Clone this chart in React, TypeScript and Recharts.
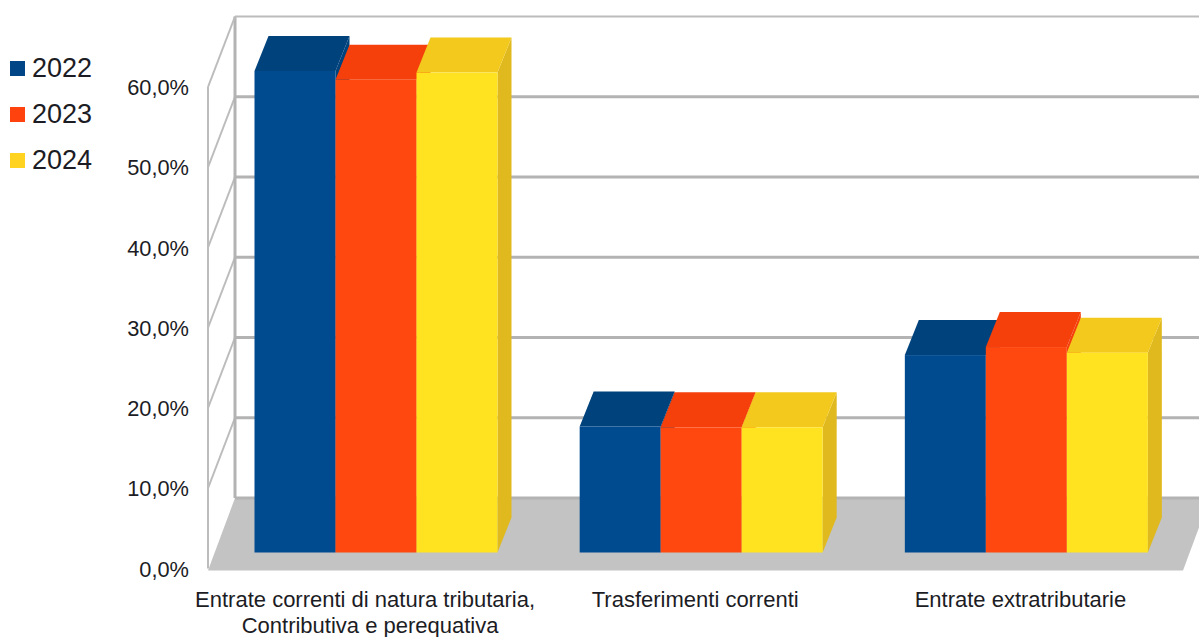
import { BarChart, Bar, XAxis, YAxis, Legend, ReferenceLine } from "recharts"

const categories = [
  ["Entrate correnti di natura tributaria,", "Contributiva e perequativa"],
  ["Trasferimenti correnti"],
  ["Entrate extratributarie"],
]
const values2022 = [60.0, 15.7, 24.6]
const values2023 = [58.9, 15.6, 25.6]
const values2024 = [59.8, 15.6, 24.9]
const yTicks = [0, 10, 20, 30, 40, 50, 60]

const data = categories.map((c, i) => ({
  name: c.join(" "),
  lines: c,
  y2022: values2022[i],
  y2023: values2023[i],
  y2024: values2024[i],
}))

const FONT = "'Liberation Sans', Arial, sans-serif"
const TEXT = "#1c1c24"
const DEPTH_X = 14
const DEPTH_Y = 35
const PLOT_H = 481.5

// back wall and floor, hung off the reference lines so y comes from the axis scale
const WallLine = (props: any) => {
  const { y1, value } = props
  const by = y1 - 54.5
  const fy = y1 + 16
  return (
    <g>
      {value === 0 && <polygon points={`208,${fy + 2} 1183,${fy + 2} 1210,${by} 235,${by}`} fill="#c3c3c3" />}
      {value === 60 && (
        <g>
          <line x1={235} x2={235} y1={by} y2={by + PLOT_H} stroke="#b3b3b3" strokeWidth={3} />
          <line x1={208} x2={208} y1={fy} y2={fy + PLOT_H} stroke="#bcbcbc" strokeWidth={2} />
        </g>
      )}
      <line x1={235} x2={1199} y1={by} y2={by} stroke={value === 60 ? "#bcbcbc" : "#b3b3b3"} strokeWidth={value === 60 ? 2 : 3} />
      {value !== 0 && <line x1={208} x2={235} y1={fy} y2={by} stroke="#bcbcbc" strokeWidth={2} />}
    </g>
  )
}

const Bar3D = ({ x, y, width, height, front, top, side }: any) => (
  <g>
    <polygon points={`${x + width},${y} ${x + width + DEPTH_X},${y - DEPTH_Y} ${x + width + DEPTH_X},${y + height - DEPTH_Y} ${x + width},${y + height}`} fill={side} />
    <polygon points={`${x},${y} ${x + DEPTH_X},${y - DEPTH_Y} ${x + width + DEPTH_X},${y - DEPTH_Y} ${x + width},${y}`} fill={top} />
    <rect x={x} y={y} width={width} height={height} fill={front} />
  </g>
)

const YTick = ({ y, payload }: any) => (
  <text x={189} y={y + 17} dy={7} textAnchor="end" fontSize={21.8} fontFamily={FONT} fill={TEXT}>
    {payload.value.toFixed(1).replace(".", ",")}%
  </text>
)

const XTick = ({ x, index }: any) => (
  <text textAnchor="middle" fontSize={22} fontFamily={FONT} fill={TEXT}>
    {categories[index].map((l, i) => (
      <tspan key={i} x={x - 6 - (index === 0 && i === 0 ? 5 : 0)} y={607 + i * 26}>{l}</tspan>
    ))}
  </text>
)

const LegendBox = ({ payload }: any) => (
  <div style={{ fontFamily: FONT, fontSize: 27, color: TEXT }}>
    {payload.map((p: any) => (
      <div key={p.value} style={{ height: 46, display: "flex", alignItems: "center" }}>
        <span style={{ width: 15, height: 15, background: p.color, marginRight: 7, display: "inline-block" }} />
        {p.value}
      </div>
    ))}
  </div>
)

export default function App() {
  return (
    <div style={{ position: "absolute", left: 0, top: 0, width: 1199, height: 637 }}>
      <BarChart
        width={1199}
        height={637}
        data={data}
        margin={{ top: 71, right: 10, left: 0, bottom: 0 }}
        barCategoryGap={41}
        barGap={0}
      >
        <XAxis dataKey="name" height={84.5} axisLine={false} tickLine={false} interval={0} tick={<XTick />} />
        <YAxis width={213.5} domain={[0, 60]} ticks={yTicks} axisLine={false} tickLine={false} tick={<YTick />} />
        <Legend
          layout="vertical"
          align="center"
          verticalAlign="middle"
          content={<LegendBox />}
          wrapperStyle={{ left: 10, top: 45, width: 100, height: 140 }}
        />
        {yTicks.map(v => (
          <ReferenceLine key={v} y={v} ifOverflow="visible" zIndex={-50} shape={(p: any) => <WallLine {...p} value={v} />} />
        ))}
        <Bar dataKey="y2022" name="2022" fill="#004586" isAnimationActive={false}
          shape={(p: any) => <Bar3D {...p} front="#004b90" top="#00427c" side="#00427c" />} />
        <Bar dataKey="y2023" name="2023" fill="#ff420e" isAnimationActive={false}
          shape={(p: any) => <Bar3D {...p} front="#ff4810" top="#f5400c" side="#f5400c" />} />
        <Bar dataKey="y2024" name="2024" fill="#ffd320" isAnimationActive={false}
          shape={(p: any) => <Bar3D {...p} front="#ffe320" top="#f3c91e" side="#e0b91e" />} />
      </BarChart>
    </div>
  )
}
